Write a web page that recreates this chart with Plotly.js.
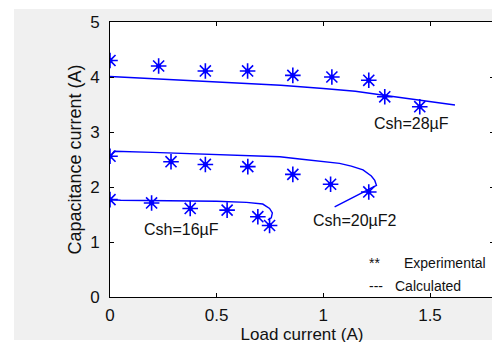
<!DOCTYPE html>
<html><head><meta charset="utf-8">
<script src="https://cdn.plot.ly/plotly-3.0.1.min.js"></script>
<style>
html,body{margin:0;padding:0;background:#fff;overflow:hidden;width:492px;height:342px}
#bg{position:absolute;left:14px;top:9px;width:490px;height:331px;background:#f0f0f0}
#chart{position:absolute;left:0;top:0;width:500px;height:350px}
</style></head>
<body><div id="bg"></div><div id="chart"></div>
<script>
// Experimental points
const exp28X=[0,0.228,0.447,0.645,0.857,1.040,1.213,1.288,1.452];
const exp28Y=[4.30,4.20,4.11,4.11,4.03,4.00,3.94,3.64,3.46];
const exp20X=[0,0.286,0.447,0.646,0.857,1.034,1.213];
const exp20Y=[2.56,2.46,2.41,2.37,2.23,2.05,1.91];
const exp16X=[0,0.195,0.376,0.549,0.693,0.748];
const exp16Y=[1.77,1.71,1.61,1.58,1.46,1.30];
// Calculated curves
const calc28X=[0,0.2,0.4,0.6,0.8,1.0,1.15,1.3,1.45,1.617];
const calc28Y=[4.01,3.97,3.93,3.89,3.85,3.79,3.74,3.66,3.58,3.49];
const calc20X=[0,0.02,0.2,0.4,0.6,0.796,0.889,0.982,1.076,1.131,1.186,1.225,1.241,1.249,1.209,1.053];
const calc20Y=[2.55,2.65,2.63,2.60,2.57,2.55,2.51,2.47,2.43,2.38,2.31,2.20,2.12,2.03,1.95,1.64];
const calc16X=[0,0.05,0.5,0.64,0.716,0.748,0.761,0.756,0.740];
const calc16Y=[1.77,1.76,1.74,1.72,1.69,1.61,1.53,1.44,1.40];
// Labels
const xTicks=[0,0.5,1,1.5];
const yTicks=[0,1,2,3,4,5];
const xTitle='Load current (A)';
const yTitle='Capacitance current (A)';

const blue='#0000ff';
const F='"Liberation Sans", Arial, Helvetica, sans-serif';
function line(x,y){return {x:x,y:y,mode:'lines',line:{color:blue,width:1.4},hoverinfo:'skip'};}
function star(x,y){return {x:x,y:y,mode:'markers',marker:{symbol:'asterisk-open',size:13,line:{color:blue,width:1.6},color:blue},hoverinfo:'skip'};}
function dot(x,y){return {x:x,y:y,mode:'markers',marker:{symbol:'circle',size:5,color:blue},hoverinfo:'skip'};}
const data=[line(calc28X,calc28Y),line(calc20X,calc20Y),line(calc16X,calc16Y),
 star(exp28X,exp28Y),star(exp20X,exp20Y),star(exp16X,exp16Y),
 dot(exp28X,exp28Y),dot(exp20X,exp20Y),dot(exp16X,exp16Y)];
function ann(t,x,y,xa,size){return {text:t,x:x,y:y,xref:'x',yref:'y',xanchor:xa,yanchor:'middle',showarrow:false,font:{family:F,size:size,color:'#111'}};}
const layout={
 width:500,height:350,margin:{l:110,r:6,t:22,b:53},
 paper_bgcolor:'rgba(0,0,0,0)',plot_bgcolor:'#fff',showlegend:false,
 font:{family:F,color:'#111'},
 xaxis:{range:[0,1.8],tickvals:xTicks,ticktext:xTicks.map(String),ticks:'inside',ticklen:4,tickcolor:'#000',
  showline:true,linecolor:'#000',linewidth:1,mirror:'ticks',showgrid:false,zeroline:false,
  tickfont:{family:F,size:17,color:'#111'},ticklabelstandoff:3,
  title:{text:xTitle,font:{family:F,size:17,color:'#111'},standoff:1}},
 yaxis:{range:[0,5],tickvals:yTicks,ticktext:yTicks.map(String),ticks:'inside',ticklen:4,tickcolor:'#000',
  showline:true,linecolor:'#000',linewidth:1,mirror:'ticks',showgrid:false,zeroline:false,
  tickfont:{family:F,size:17,color:'#111'},ticklabelstandoff:6,
  title:{text:yTitle,font:{family:F,size:18,color:'#111'},standoff:3}},
 annotations:[
  ann('Csh=28µF',1.411,3.16,'center',16),
  ann('Csh=20µF2',1.148,1.40,'center',16),
  ann('Csh=16µF',0.337,1.23,'center',16),
  ann('**',1.205,0.62,'left',14),
  ann('Experimental',1.37,0.62,'left',14),
  ann('---',1.205,0.20,'left',14),
  ann('Calculated',1.328,0.20,'left',14)
 ]
};
Plotly.newPlot('chart',data,layout,{staticPlot:true,displayModeBar:false});
</script>
</body></html>
